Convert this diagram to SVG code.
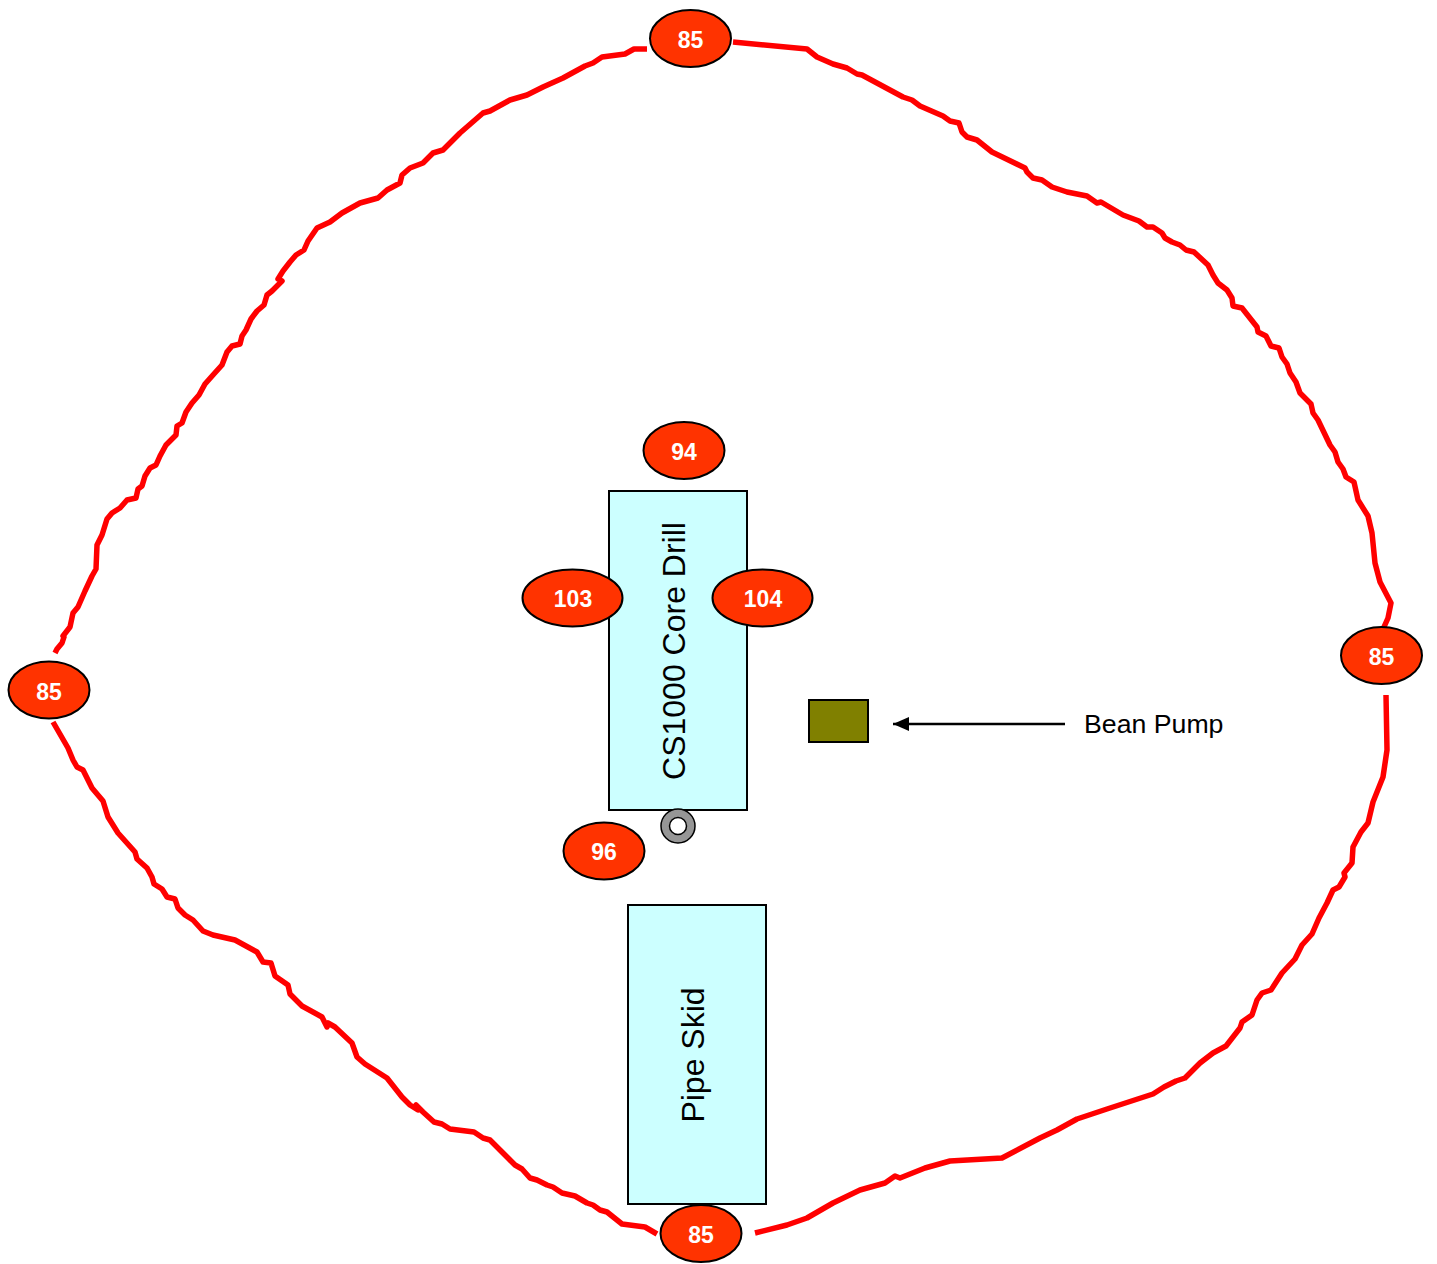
<svg xmlns="http://www.w3.org/2000/svg" width="1437" height="1264" viewBox="0 0 1437 1264">
<defs>
<style>
.w{fill:none;stroke:#ff0000;stroke-width:5.5;stroke-linejoin:round}
.b{fill:#ccffff;stroke:#000;stroke-width:2}
.e{fill:#ff3300;stroke:#000;stroke-width:2}
.n{font:bold 23px "Liberation Sans",Arial,sans-serif;fill:#fff;text-anchor:middle}
.t{font:32px "Liberation Sans",Arial,sans-serif;fill:#000;text-anchor:middle}
</style>
<marker id="ah" markerUnits="userSpaceOnUse" markerWidth="16" markerHeight="14" refX="16" refY="7" orient="auto"><path d="M0 0L16 7L0 14Z" fill="#000"/></marker>
</defs>
<g id="connectors">
<path class="w" d="M733 42L807 49L817 57L833 64L847 68L857 74L862 75L903 97L912 100L920 106L943 116L950 121L959 123L962 132L967 137L977 140L992 152L1025 168L1027 172L1033 178L1042 180L1052 187L1067 192L1087 196L1097 203L1101 202L1123 215L1139 221L1147 227L1153 227L1162 233L1165 238L1172 242L1180 245L1186 250L1194 252L1208 265L1213 275L1218 283L1227 290L1232 298L1233 306L1242 308L1257 327L1258 332L1266 336L1271 346L1279 348L1282 357L1287 364L1290 373L1296 382L1300 393L1311 404L1313 413L1318 420L1330 445L1335 452L1338 462L1343 469L1346 477L1354 482L1358 500L1368 516L1372 533L1375 563L1380 582L1391 603L1388 618L1384 627"/>
<path class="w" d="M1386 695L1387 750L1383 777L1373 802L1368 823L1361 832L1353 847L1352 863L1344 873L1345 877L1339 887L1333 890L1327 903L1319 918L1312 934L1302 945L1295 959L1282 973L1271 990L1262 993L1257 1000L1252 1015L1242 1022L1240 1028L1226 1046L1213 1053L1200 1063L1185 1078L1176 1081L1164 1087L1153 1094L1107 1109L1077 1119L1057 1130L1040 1138L1002 1158L950 1161L925 1168L900 1178L895 1176L885 1183L860 1190L833 1203L807 1218L787 1225L755 1233"/>
<path class="w" d="M657 1234L645 1227L622 1224L607 1212L600 1210L593 1205L587 1203L575 1196L562 1193L553 1187L547 1185L537 1180L530 1178L522 1169L515 1165L490 1140L483 1138L474 1132L450 1129L442 1124L434 1122L423 1112L416 1105L418 1110L410 1105L402 1097L387 1078L365 1064L357 1057L352 1043L335 1027L328 1023L327 1027L322 1017L302 1006L290 994L288 985L275 976L271 963L263 962L257 952L235 940L213 935L203 931L193 920L185 915L178 908L175 899L167 897L162 889L154 884L152 877L147 868L137 859L135 852L118 833L108 817L103 801L92 788L88 780L83 770L77 767L73 760L68 748L53 722"/>
<path class="w" d="M55 653L57 649L62 643L64 637L63 636L70 627L73 613L78 607L85 591L92 576L96 569L97 545L102 535L107 519L112 513L120 508L127 500L136 498L138 489L142 486L145 476L150 468L156 465L160 456L166 445L176 435L177 426L182 423L186 412L192 403L199 395L205 384L213 375L222 365L227 352L232 346L240 344L242 336L246 330L251 319L257 311L264 305L267 295L272 291L282 281L278 279L283 271L290 262L296 255L304 250L308 241L317 228L330 222L342 213L360 203L378 198L387 190L400 183L402 175L410 168L423 163L433 153L443 150L460 133L483 113L490 111L510 100L527 95L543 87L563 78L585 66L593 63L602 57L625 54L634 49L647 49"/>
<path d="M1065 724H893" fill="none" stroke="#000" stroke-width="2.5" marker-end="url(#ah)" id="bean-arrow"/>
</g>
<g id="drill"><rect class="b" x="609" y="491" width="138" height="319"/><text class="t" transform="translate(684.5 651) rotate(-90)">CS1000 Core Drill</text></g>
<g id="skid"><rect class="b" x="628" y="905" width="138" height="299"/><text class="t" transform="translate(704 1055) rotate(-90)">Pipe Skid</text></g>
<g id="pump"><rect x="809" y="700" width="59" height="42" fill="#808000" stroke="#000" stroke-width="2"/></g>
<g id="well"><circle cx="678" cy="826" r="17" fill="#969696" stroke="#000" stroke-width="1.5"/><circle cx="678" cy="826" r="8.5" fill="#fff" stroke="#000" stroke-width="1.5"/></g>
<g id="label-bean"><text x="1084" y="733" font-family="Liberation Sans, Arial, sans-serif" font-size="26.7">Bean Pump</text></g>
<g id="n85a"><ellipse class="e" cx="690.5" cy="38.5" rx="40.5" ry="28.5"/><text class="n" x="690.5" y="48">85</text></g>
<g id="n85b"><ellipse class="e" cx="701" cy="1233.5" rx="40.5" ry="28.5"/><text class="n" x="701" y="1243">85</text></g>
<g id="n85c"><ellipse class="e" cx="49" cy="690" rx="40.5" ry="28.5"/><text class="n" x="49" y="700">85</text></g>
<g id="n85d"><ellipse class="e" cx="1381.5" cy="655.5" rx="40.5" ry="28.5"/><text class="n" x="1381.5" y="665">85</text></g>
<g id="n94"><ellipse class="e" cx="684" cy="450.5" rx="40.5" ry="28.5"/><text class="n" x="684" y="460">94</text></g>
<g id="n103"><ellipse class="e" cx="572.5" cy="598" rx="50" ry="28.5"/><text class="n" x="573" y="607">103</text></g>
<g id="n104"><ellipse class="e" cx="762.5" cy="598" rx="50" ry="28.5"/><text class="n" x="763" y="607">104</text></g>
<g id="n96"><ellipse class="e" cx="604" cy="851" rx="40.5" ry="28.5"/><text class="n" x="604" y="860">96</text></g>
</svg>
